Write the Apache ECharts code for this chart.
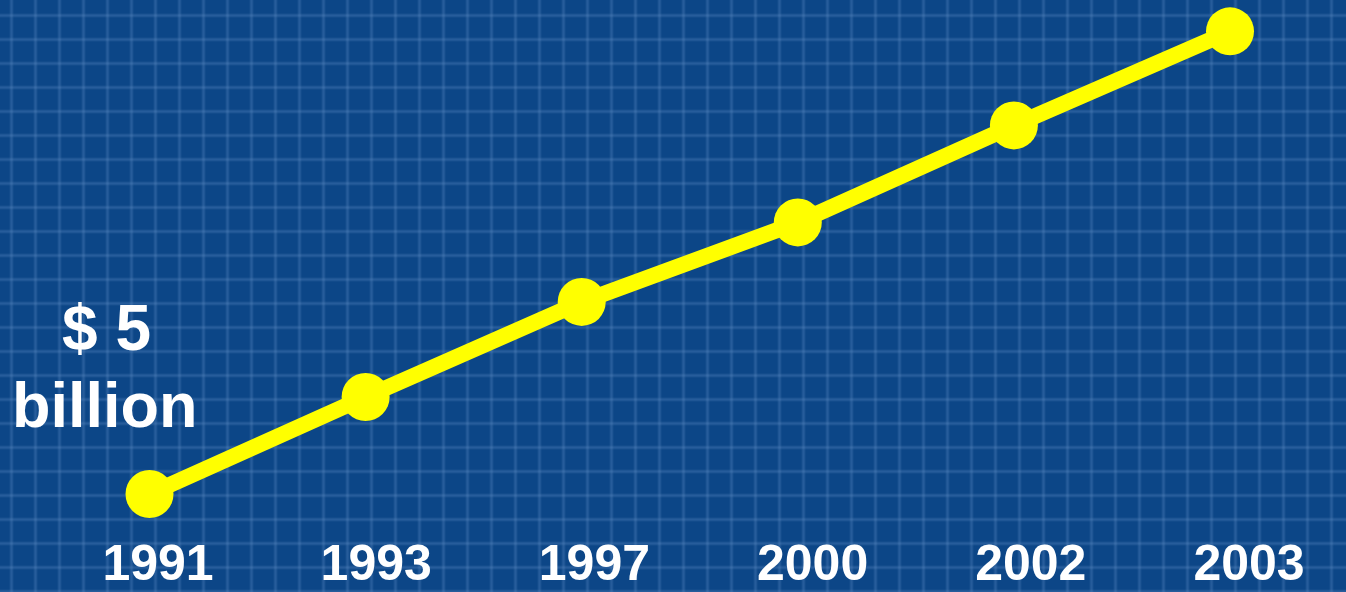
<!DOCTYPE html>
<html>
<head>
<meta charset="utf-8">
<script src="https://cdn.jsdelivr.net/npm/echarts@6/dist/echarts.min.js"></script>
<style>
html,body{margin:0;padding:0;background:#0c4687;}
#chart{width:1346px;height:592px;}
</style>
</head>
<body>
<div id="chart"></div>
<script>
// Data
var years = ['1991', '1993', '1997', '2000', '2002', '2003'];
var revenue = [5, 6, 6.98, 7.8, 8.8, 9.77]; // billions of dollars (estimated)
var labelTop = '$ 5';
var labelBottom = 'billion';

// blueprint background grid (decoration)
var gridLines = [];
var W = 1346, H = 592, step = 24;
function addLine(x1, y1, x2, y2) {
  gridLines.push({type: 'line', silent: true, z: -10,
    shape: {x1: x1, y1: y1, x2: x2, y2: y2},
    style: {stroke: 'rgba(90,135,195,0.16)', lineWidth: 4}});
  gridLines.push({type: 'line', silent: true, z: -9,
    shape: {x1: x1, y1: y1, x2: x2, y2: y2},
    style: {stroke: 'rgba(90,135,195,0.22)', lineWidth: 2}});
}
for (var gx = 11.5; gx < W; gx += step) addLine(gx, 0, gx, H);
for (var gy = 15.5; gy < H; gy += step) addLine(0, gy, W, gy);

var chart = echarts.init(document.getElementById('chart'), null, {renderer: 'canvas'});
chart.setOption({
  backgroundColor: '#0c4687',
  animation: false,
  graphic: gridLines.concat([
    {type: 'text', left: 62, top: 300, z: 10,
     style: {text: labelTop, font: 'bold 64px "Liberation Sans", Arial, sans-serif', fill: '#ffffff'}},
    {type: 'text', left: 12, top: 378, z: 10,
     style: {text: labelBottom, font: 'bold 63px "Liberation Sans", Arial, sans-serif', fill: '#ffffff'}}
  ]),
  grid: [
    {left: 149.5, right: 116, top: 9, bottom: 98},
    {left: 158, right: 97, top: 0, bottom: 52}
  ],
  xAxis: [
    {type: 'category', gridIndex: 0, data: years, boundaryGap: false,
     axisLine: {show: false}, axisTick: {show: false}, axisLabel: {show: false}, splitLine: {show: false}},
    {type: 'category', gridIndex: 1, data: years, boundaryGap: false,
     axisLine: {show: false}, axisTick: {show: false}, splitLine: {show: false},
     axisLabel: {show: true, color: '#ffffff', fontSize: 50, fontWeight: 'bold',
                 fontFamily: '"Liberation Sans", Arial, sans-serif', margin: 26, verticalAlign: 'middle'}}
  ],
  yAxis: [
    {type: 'value', gridIndex: 0, min: 5, max: 10, show: false},
    {type: 'value', gridIndex: 1, min: 0, max: 1, show: false}
  ],
  series: [{
    type: 'line', xAxisIndex: 0, yAxisIndex: 0, data: revenue,
    symbol: 'circle', symbolSize: 48,
    lineStyle: {color: '#ffff00', width: 16},
    itemStyle: {color: '#ffff00'},
    clip: false, z: 5
  }]
});
</script>
</body>
</html>
